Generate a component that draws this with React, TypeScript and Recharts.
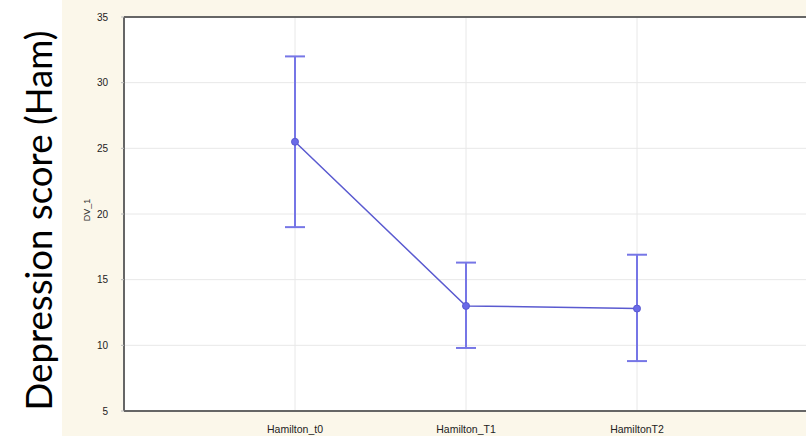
import React from "react"
import {
  ComposedChart,
  Line,
  ErrorBar,
  XAxis,
  YAxis,
  CartesianGrid,
  ReferenceLine,
} from "recharts"

// categories and values
const categories = ["Hamilton_t0", "Hamilton_T1", "HamiltonT2"]
const means = [25.5, 13.0, 12.8]
const upper = [32.0, 16.3, 16.9]
const lower = [19.0, 9.8, 8.8]
const yTicks = [5, 10, 15, 20, 25, 30, 35]

const data = categories.map((name, i) => ({
  x: i + 1,
  name,
  mean: means[i],
  err: [means[i] - lower[i], upper[i] - means[i]],
}))

const CREAM = "#fbf7ea"

export default function App() {
  return (
    <div
      style={{
        position: "absolute",
        left: 0,
        top: 0,
        width: 806,
        height: 436,
        overflow: "hidden",
        background: "#ffffff",
        fontFamily: "Arial, 'Liberation Sans', sans-serif",
      }}
    >
      {/* cream panel behind the statistica chart */}
      <div
        style={{
          position: "absolute",
          left: 62,
          top: 0,
          width: 744,
          height: 436,
          background: CREAM,
        }}
      />
      <div style={{ position: "absolute", left: 0, top: 0 }}>
        <ComposedChart
          width={812}
          height={436}
          data={data}
          margin={{ top: 17, right: 4, left: 94, bottom: 5 }}
        >
          <CartesianGrid stroke="#e8e8e8" fill="#ffffff" />
          <XAxis
            dataKey="x"
            type="number"
            domain={[0, 4]}
            ticks={[1, 2, 3]}
            tickFormatter={(v) => categories[v - 1]}
            height={20}
            axisLine={{ stroke: "#666", strokeWidth: 2 }}
            tickLine={false}
            tick={{ fontSize: 10.5, fill: "#222" }}
            tickMargin={9}
          />
          <YAxis
            type="number"
            domain={[5, 35]}
            ticks={yTicks}
            width={30}
            axisLine={{ stroke: "#666", strokeWidth: 2 }}
            tickLine={{ stroke: "#bbb" }}
            tickSize={3}
            tickMargin={13}
            tick={{ fontSize: 10, fill: "#222" }}
          />
          <ReferenceLine y={35} stroke="#666" strokeWidth={2} />
          <Line
            dataKey="mean"
            stroke="#5a5ad0"
            strokeWidth={1.5}
            dot={{ r: 3.5, fill: "#6a6ae8", stroke: "#5a5ad0", strokeWidth: 1 }}
            isAnimationActive={false}
          >
            <ErrorBar
              dataKey="err"
              direction="y"
              width={10}
              stroke="#7676e6"
              strokeWidth={2}
            />
          </Line>
        </ComposedChart>
      </div>

      {/* big y title and the small DV_1 label */}
      <svg
        width={110}
        height={436}
        style={{ position: "absolute", left: 0, top: 0 }}
      >
        <text
          x={-220.5}
          y={52}
          transform="rotate(-90)"
          textAnchor="middle"
          fontSize={36}
          fontFamily="Lato, 'Open Sans', sans-serif"
          fill="#000"
          textLength={380}
          lengthAdjust="spacingAndGlyphs"
        >
          Depression score (Ham)
        </text>
        <text
          x={-210}
          y={90}
          transform="rotate(-90)"
          textAnchor="middle"
          fontSize={9}
          fontFamily="Arial, 'Liberation Sans', sans-serif"
          fill="#333"
        >
          DV_1
        </text>
      </svg>
    </div>
  )
}
